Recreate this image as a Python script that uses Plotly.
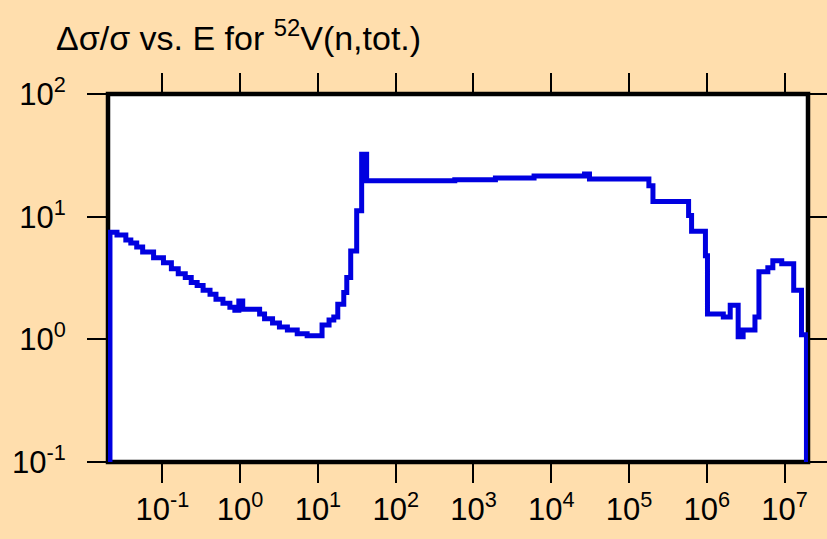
import plotly.graph_objects as go

# Neutron energy (eV) at the start of each step, and relative uncertainty (%)
energy_eV = [0.02, 0.0212, 0.0261, 0.0339, 0.0393, 0.0468, 0.0558, 0.0771, 0.1033, 0.1306,
             0.160, 0.197, 0.235, 0.280, 0.334, 0.410, 0.489, 0.601, 0.738, 0.855,
             0.962, 1.08, 1.78, 2.06, 2.61, 3.20, 4.05, 5.42, 7.27, 11.3,
             13.9, 16.0, 18.0, 21.5, 23.5, 26.4, 31.5, 36.5, 42.3, 575,
             1915, 6010, 26800, 31000, 1.80e5, 2.03e5, 5.83e5, 6.37e5, 9.6e5, 1.02e6,
             1.63e6, 2.0e6, 2.53e6, 2.93e6, 4.16e6, 4.68e6, 6.09e6, 7.06e6, 9.19e6, 1.31e7,
             1.65e7, 1.91e7, 2.0e7]
rel_unc = [0.01, 7.48, 7.08, 6.44, 6.10, 5.66, 5.16, 4.62, 4.21, 3.77,
           3.43, 3.19, 2.91, 2.75, 2.51, 2.33, 2.12, 1.97, 1.83, 1.73,
           2.05, 1.76, 1.61, 1.47, 1.36, 1.26, 1.19, 1.11, 1.07, 1.31,
           1.44, 1.52, 1.93, 2.41, 3.19, 5.26, 11.2, 32.3, 19.6, 19.95,
           20.7, 21.5, 22.3, 20.3, 17.9, 13.3, 10.2, 7.62, 4.80, 1.61,
           1.52, 1.90, 1.05, 1.19, 1.52, 3.56, 3.84, 4.37, 4.13, 2.51,
           1.09, 0.01, 0.01]

x_tickvals = [1e-1, 1e0, 1e1, 1e2, 1e3, 1e4, 1e5, 1e6, 1e7]
x_ticktext = ["10<sup>-1</sup>", "10<sup>0</sup>", "10<sup>1</sup>", "10<sup>2</sup>",
              "10<sup>3</sup>", "10<sup>4</sup>", "10<sup>5</sup>", "10<sup>6</sup>",
              "10<sup>7</sup>"]
y_tickvals = [1e-1, 1e0, 1e1, 1e2]
y_ticktext = ["10<sup>-1</sup>", "10<sup>0</sup>", "10<sup>1</sup>", "10<sup>2</sup>"]

title_text = "Δσ/σ vs. E for <sup>52</sup>V(n,tot.)"

FONT = "Liberation Sans, Arial, sans-serif"
BG = "#FFDEAD"

fig = go.Figure()
fig.add_trace(go.Scatter(
    x=energy_eV, y=rel_unc, mode="lines",
    line=dict(color="#0000E0", width=5, shape="hv"),
    showlegend=False, hoverinfo="skip",
))

axis_common = dict(
    type="log", showgrid=False, zeroline=False, showline=False,
    ticks="outside", ticklen=20, tickwidth=2, tickcolor="black",
    mirror="allticks", tickfont=dict(family=FONT, size=31, color="black"),
    tickmode="array",
)

fig.update_xaxes(range=[-1.699, 7.301], tickvals=x_tickvals, ticktext=x_ticktext, **axis_common)
fig.update_yaxes(range=[-1, 2], tickvals=y_tickvals, ticktext=y_ticktext,
                 ticklabelstandoff=15, **axis_common)

fig.add_shape(type="rect", xref="paper", yref="paper", x0=0, y0=0, x1=1, y1=1,
              line=dict(color="black", width=4.5), layer="below")

fig.add_annotation(text=title_text, xref="paper", yref="paper",
                   x=-0.0765, y=1.158, xanchor="left", yanchor="middle",
                   showarrow=False, font=dict(family=FONT, size=34, color="black"))

fig.update_layout(
    width=827, height=539,
    margin=dict(l=102, r=19, t=94, b=72),
    paper_bgcolor=BG, plot_bgcolor="white",
    font=dict(family=FONT),
)

fig.write_html("out.html", config={"displayModeBar": False},
               post_script="document.body.style.margin='0px';"
                           "document.body.style.background='" + BG + "';")
